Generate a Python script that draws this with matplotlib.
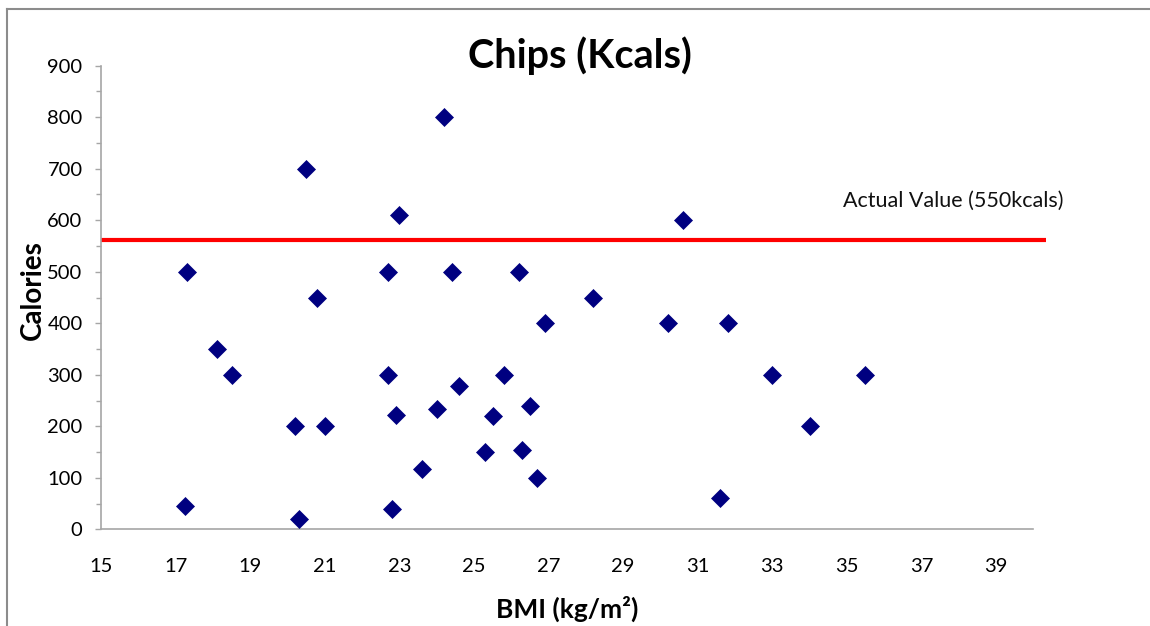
import matplotlib.pyplot as plt
from matplotlib.lines import Line2D
import numpy as np

plt.rcParams['font.family'] = ['Lato', 'DejaVu Sans']

# BMI (kg/m2) and calories guessed for chips
bmi = [17.25, 17.3, 18.1, 18.5, 20.2, 20.3, 20.5, 20.8, 21.0,
       22.7, 22.7, 22.8, 22.9, 23.0, 23.6, 24.0, 24.2, 24.4, 24.6,
       25.3, 25.5, 25.8, 26.2, 26.3, 26.5, 26.7, 26.9, 28.2,
       30.2, 30.6, 31.6, 31.8, 33.0, 34.0, 35.5]
calories = [45, 500, 350, 300, 200, 20, 700, 450, 200,
            500, 300, 40, 222, 610, 118, 233, 800, 500, 278,
            150, 220, 300, 500, 154, 240, 100, 400, 450,
            400, 600, 60, 400, 300, 200, 300]
actual_line = 562
actual_label = "Actual Value (550kcals)"
x_ticks = np.arange(15, 40, 2)
y_ticks = np.arange(0, 901, 100)

W, H = 1150, 626
fig = plt.figure(figsize=(W / 100, H / 100), dpi=100)
ax = fig.add_axes([101 / W, 1 - 529.3 / H, (1033.3 - 101) / W, (529.3 - 65.7) / H])

ax.plot(bmi, calories, linestyle='none', marker='D', ms=9.6,
        color='#000080', mec='#000080', mew=0.5, zorder=3)

# red line drawn as a shape, runs a bit past the axis end
ax.plot([15, 40.35], [actual_line, actual_line], color='#ff0000', lw=3,
        clip_on=False, solid_capstyle='butt', zorder=2)
fig.text(843 / W, 1 - 207 / H, actual_label, fontsize=15.5, ha='left',
         va='baseline', color='#111111')

ax.set_xlim(15, 40)
ax.set_ylim(0, 900)
ax.set_xticks(x_ticks)
ax.set_yticks(y_ticks)
ax.set_yticks(np.arange(50, 900, 100), minor=True)

for s in ['top', 'right']:
    ax.spines[s].set_visible(False)
for s in ['left', 'bottom']:
    ax.spines[s].set_color('#a6a6a6')
    ax.spines[s].set_linewidth(1.2)

ax.tick_params(axis='x', length=0, pad=21, labelsize=14.5)
ax.tick_params(axis='y', which='major', direction='out', length=4.3, width=1,
               color='#a6a6a6', pad=9, labelsize=14.5)
ax.tick_params(axis='y', which='minor', direction='out', length=3.8, width=1,
               color='#a6a6a6')

ax.set_xlabel('BMI (kg/m²)', fontsize=19, fontweight='bold')
ax.xaxis.set_label_coords(0.5, -0.143)
ax.set_ylabel('Calories', fontsize=20, fontweight='bold', va='center')
ax.yaxis.set_label_coords(-0.073, 0.516)

fig.text(580 / W, 1 - 68 / H, 'Chips (Kcals)', fontsize=28.5, fontweight='bold',
         ha='center', va='baseline')

# chart area border (only top and left are visible in the crop)
fig.add_artist(Line2D([7 / W, 1], [1 - 8.5 / H, 1 - 8.5 / H], color='#8c8c8c', lw=1.5))
fig.add_artist(Line2D([7 / W, 7 / W], [0, 1 - 8.5 / H], color='#8c8c8c', lw=1.5))

fig.savefig('out.png', dpi=100)
